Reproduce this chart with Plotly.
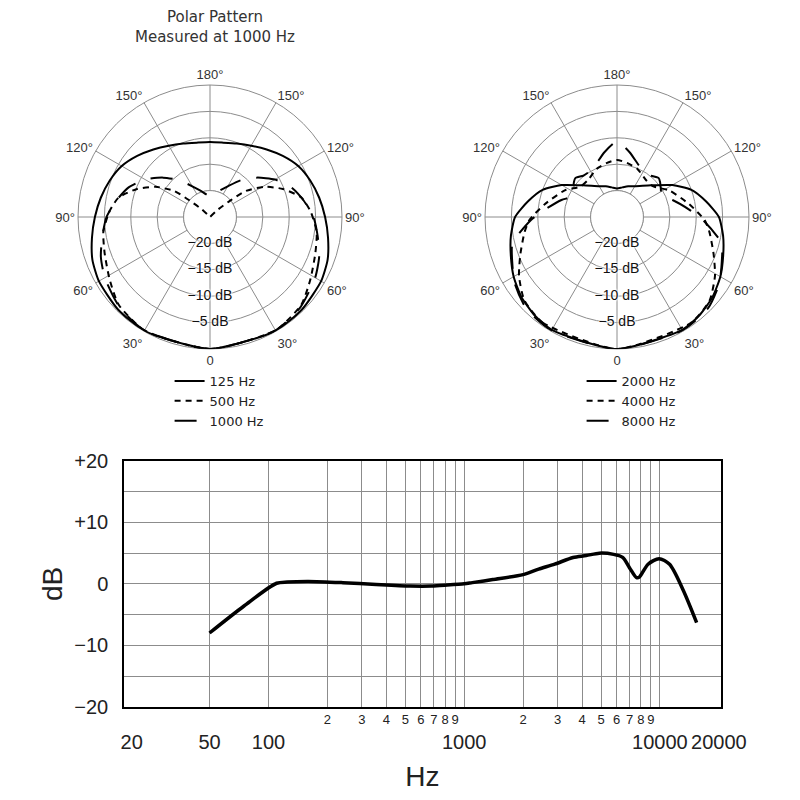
import plotly.graph_objects as go

# polar pattern, left chart (degrees off axis -> dB)
ANG_125 = [0, 30, 45, 60, 70, 80, 90, 100, 110, 120, 130, 140, 150, 160, 170, 180]
DB_125 = [0, -0.1, -0.3, -0.7, -1.3, -2.3, -3.2, -4.0, -4.8, -5.7, -7.0, -8.3, -9.4, -10.2, -10.7, -10.8]

ANG_500 = [0, 30, 46, 58, 71, 82, 93, 102, 111, 119, 126, 129, 133, 140, 180]
DB_500 = [0, -0.2, -1.0, -2.6, -3.9, -4.6, -5.9, -7.3, -10.2, -13.2, -16.6, -20.0, -22.9, -25.0, -25.0]

ANG_1000 = [0, 30, 45, 60, 70, 80, 90, 100, 110, 120, 130, 140, 150, 160, 170, 180]
DB_1000 = [0, -0.2, -0.8, -2.0, -3.0, -4.3, -5.4, -7.0, -8.6, -10.8, -13.4, -15.9, -18.3, -19.7, -20.6, -21.1]

# polar pattern, right chart
ANG_2000 = [0, 30, 40, 50, 60, 70, 80, 90, 100, 110, 120, 133, 150, 160, 170, 180]
DB_2000 = [0, -0.3, -0.7, -1.4, -2.4, -3.6, -4.6, -5.7, -7.9, -10.0, -12.9, -16.2, -18.3, -18.8, -19.3, -19.6]

ANG_4000 = [0, 35, 48, 59, 69, 81, 88, 100, 117, 130, 142, 157, 169, 180]
DB_4000 = [0, -0.55, -1.4, -3.35, -5.4, -7.3, -8.4, -11.1, -13.9, -16.0, -16.1, -15.1, -14.6, -14.2]

ANG_8000 = [0, 30, 45, 57, 66, 76, 88, 95, 107, 115, 122, 129, 133, 141, 150, 157, 169, 180]
DB_8000 = [0, -0.2, -0.6, -1.9, -3.3, -4.6, -8.7, -11.0, -14.0, -15.7, -15.2, -14.5, -14.2, -14.9, -14.9, -14.4, -12.5, -10.7]

RING_DB = [-20, -15, -10, -5]
RING_LABELS = ["\u221220 dB", "\u221215 dB", "\u221210 dB", "\u22125 dB"]
ANGLE_TICKS = [0, 30, 60, 90, 120, 150, 180, 210, 240, 270, 300, 330]
ANGLE_LABELS = ["0", "30°", "60°", "90°", "120°", "150°", "180°", "150°", "120°", "90°", "60°", "30°"]

# frequency response
FREQ_HZ = [50, 75, 110, 125, 160, 240, 355, 530, 680, 750, 1000, 1100, 1400, 2000, 2400, 2900,
           3600, 4200, 4900, 5800, 6450, 7000, 7600, 7850, 8700, 9900, 11200, 13100, 15400]
RESP_DB = [-8.0, -3.6, 0.1, 0.3, 0.4, 0.2, -0.1, -0.35, -0.35, -0.25, 0.0, 0.2, 0.7, 1.5, 2.4, 3.2,
           4.3, 4.6, 5.0, 4.8, 4.3, 2.6, 1.0, 1.1, 3.2, 4.1, 3.2, -0.9, -6.3]

MAJOR_HZ = [20, 50, 100, 1000, 10000, 20000]
MAJOR_LABELS = ["20", "50", "100", "1000", "10000", "20000"]
GRID_HZ = [50, 100, 200, 300, 400, 500, 600, 700, 800, 900, 1000,
           2000, 3000, 4000, 5000, 6000, 7000, 8000, 9000, 10000]
GRID_LABELS = ["", "", "2", "3", "4", "5", "6", "7", "8", "9", "",
               "2", "3", "4", "5", "6", "7", "8", "9", ""]
Y_TICKS = [-20, -15, -10, -5, 0, 5, 10, 15, 20]
Y_LABELS = ["\u221220", "", "\u221210", "", "0", "", "+10", "", "+20"]

FONT = "Liberation Sans, Arial, sans-serif"
WIDE_FONT = "DejaVu Sans, Verdana, sans-serif"
GRID = "#8c8c8c"
SHORT_DASH = "6px,5px"
LONG_DASH = "22px,16px"


def mirror(ang, db):
    # patterns are symmetric: reflect the 0..180 half onto 180..360
    theta = list(ang) + [360 - a for a in reversed(ang[:-1])]
    r = list(db) + list(reversed(db[:-1]))
    return theta, r


fig = go.Figure()

polar_sets = [
    ("polar", "legend", [("125 Hz", ANG_125, DB_125, "solid"),
                         ("500 Hz", ANG_500, DB_500, SHORT_DASH),
                         ("1000 Hz", ANG_1000, DB_1000, LONG_DASH)]),
    ("polar2", "legend2", [("2000 Hz", ANG_2000, DB_2000, "solid"),
                           ("4000 Hz", ANG_4000, DB_4000, SHORT_DASH),
                           ("8000 Hz", ANG_8000, DB_8000, LONG_DASH)]),
]

for subplot, legend, curves in polar_sets:
    # blank centre inside the innermost ring
    disc = list(range(0, 361, 5))
    fig.add_trace(go.Scatterpolar(
        theta=disc, r=[RING_DB[0]] * len(disc), mode="lines", fill="toself",
        fillcolor="white", line=dict(color=GRID, width=1), hoverinfo="skip",
        showlegend=False, subplot=subplot))
    for name, ang, db, dash in curves:
        theta, r = mirror(ang, db)
        fig.add_trace(go.Scatterpolar(
            theta=theta, r=r, mode="lines", name=name, legend=legend,
            line=dict(color="black", width=2, dash=dash, shape="spline", smoothing=0.6),
            subplot=subplot))
    fig.add_trace(go.Scatterpolar(
        theta=[0] * len(RING_DB), r=RING_DB, mode="text", text=RING_LABELS,
        textfont=dict(family=FONT, size=14, color="#111",
                      shadow="0 0 2px white, 0 0 2px white, 0 0 3px white, 0 0 3px white"),
        hoverinfo="skip", showlegend=False, subplot=subplot))

fig.add_trace(go.Scatter(
    x=FREQ_HZ, y=RESP_DB, mode="lines", showlegend=False,
    line=dict(color="black", width=3.5, shape="spline", smoothing=0.8),
    xaxis="x", yaxis="y"))
# invisible trace so the overlaid grid axis is drawn
fig.add_trace(go.Scatter(x=[GRID_HZ[0]], y=[0], mode="markers", marker=dict(opacity=0),
                         showlegend=False, hoverinfo="skip", xaxis="x2", yaxis="y"))

polar_common = dict(
    bgcolor="white",
    radialaxis=dict(range=[-25, 0], tickvals=RING_DB, showticklabels=False, ticks="",
                    showline=False, gridcolor=GRID, gridwidth=1, layer="below traces"),
    angularaxis=dict(tickvals=ANGLE_TICKS, ticktext=ANGLE_LABELS, rotation=-90,
                     direction="clockwise", ticks="", gridcolor=GRID, gridwidth=1,
                     linecolor=GRID, linewidth=1, layer="below traces",
                     tickfont=dict(family=FONT, size=13, color="#333")),
)

x_range = [1.262, 4.311]
legend_font = dict(family=WIDE_FONT, size=13, color="#222")

fig.update_layout(
    width=800, height=800,
    margin=dict(l=0, r=0, t=0, b=0),
    paper_bgcolor="white", plot_bgcolor="white",
    font=dict(family=FONT, color="#222"),
    polar=dict(domain=dict(x=[0.0975, 0.4275], y=[0.56375, 0.89375]), **polar_common),
    polar2=dict(domain=dict(x=[0.60625, 0.93625], y=[0.56375, 0.89375]), **polar_common),
    legend=dict(x=0.212, y=0.5425, xanchor="left", yanchor="top", bgcolor="rgba(0,0,0,0)",
                font=legend_font, tracegroupgap=0),
    legend2=dict(x=0.727, y=0.5425, xanchor="left", yanchor="top", bgcolor="rgba(0,0,0,0)",
                 font=legend_font, tracegroupgap=0),
    xaxis=dict(type="log", range=x_range, domain=[0.155, 0.901], anchor="y",
               tickvals=MAJOR_HZ, ticktext=MAJOR_LABELS, showgrid=False, ticks="",
               showline=True, mirror=True, linecolor="black", linewidth=1.5,
               tickfont=dict(size=20, color="#222"), ticklabelstandoff=17,
               automargin=False,
               title=dict(text="Hz", font=dict(size=28, color="#222"), standoff=14)),
    xaxis2=dict(type="log", range=x_range, overlaying="x", anchor="y", side="bottom",
                tickvals=GRID_HZ, ticktext=GRID_LABELS, showgrid=True, gridcolor=GRID,
                gridwidth=1, ticks="", showline=False, zeroline=False,
                tickfont=dict(size=13, color="#222"), ticklabelstandoff=3, automargin=False),
    yaxis=dict(range=[-20, 20], domain=[0.1166, 0.42375], anchor="x",
               tickvals=Y_TICKS, ticktext=Y_LABELS, showgrid=True, gridcolor=GRID,
               gridwidth=1, zeroline=False, ticks="", showline=True, mirror=True,
               linecolor="black", linewidth=1.5, tickfont=dict(size=20, color="#222"),
               ticklabelstandoff=10, automargin=False,
               title=dict(text="dB", font=dict(size=28, color="#222"), standoff=4)),
    annotations=[dict(text="Polar Pattern<br>Measured at 1000 Hz", x=215 / 800, y=0.992,
                      xref="paper", yref="paper", xanchor="center", yanchor="top",
                      showarrow=False, font=dict(family=WIDE_FONT, size=15, color="#333"))],
)

# drop the browser's default page margin so the 800x800 figure fills the window
fig.write_html("out.html", config={"displayModeBar": False},
               post_script="document.body.style.margin = '0';")
